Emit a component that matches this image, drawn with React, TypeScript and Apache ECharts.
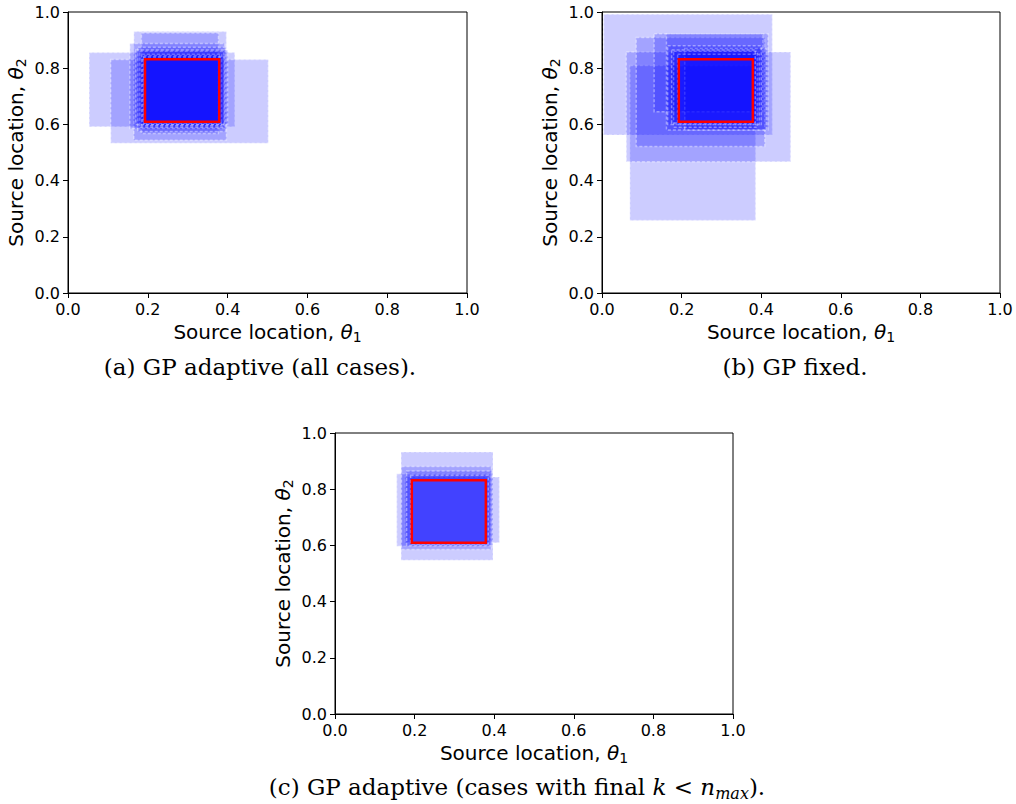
import React, { useEffect, useRef } from "react";
import * as echarts from "echarts";

// Axis ticks (both axes, all panels)
const TICKS = [0, 0.2, 0.4, 0.6, 0.8, 1.0];

// True source region [x0, x1, y0, y1]
const TRUE_BOX = [0.193, 0.379, 0.609, 0.832];

// Posterior credible boxes [x0, x1, y0, y1] — (a) GP adaptive (all cases)
const BOXES_A = [
  [0.053, 0.418, 0.592, 0.856],
  [0.107, 0.502, 0.533, 0.831],
  [0.165, 0.397, 0.544, 0.931],
  [0.184, 0.377, 0.568, 0.925],
  [0.155, 0.393, 0.585, 0.888],
  [0.175, 0.395, 0.575, 0.875],
  [0.18, 0.39, 0.59, 0.86],
  [0.185, 0.385, 0.595, 0.85],
  [0.19, 0.38, 0.6, 0.845],
  [0.17, 0.4, 0.6, 0.865],
  [0.188, 0.392, 0.605, 0.84],
];

// (b) GP fixed
const BOXES_B = [
  [0.004, 0.428, 0.562, 0.992],
  [0.07, 0.386, 0.258, 0.81],
  [0.061, 0.474, 0.467, 0.858],
  [0.086, 0.409, 0.521, 0.909],
  [0.131, 0.404, 0.645, 0.923],
  [0.162, 0.417, 0.58, 0.923],
  [0.208, 0.413, 0.58, 0.87],
  [0.165, 0.4, 0.6, 0.88],
  [0.18, 0.39, 0.59, 0.86],
  [0.19, 0.395, 0.6, 0.85],
  [0.175, 0.385, 0.605, 0.865],
];

// (c) GP adaptive (cases with final k < n_max)
const BOXES_C = [
  [0.166, 0.397, 0.547, 0.932],
  [0.176, 0.413, 0.609, 0.843],
  [0.155, 0.39, 0.597, 0.855],
  [0.167, 0.393, 0.585, 0.881],
  [0.18, 0.395, 0.6, 0.865],
  [0.19, 0.385, 0.605, 0.85],
];

const CAPTION_A = "(a) GP adaptive (all cases).";
const CAPTION_B = "(b) GP fixed.";
const CAPTION_C_PARTS = ["(c) GP adaptive (cases with final ", "k", " < ", "n", "max", ")."];
const AXIS_LABEL = "Source location, ";

const SANS = "DejaVu Sans";
const SERIF = "DejaVu Serif";

function axisName(sub: string) {
  return `{n|${AXIS_LABEL}}{t|θ}{s|${sub}}`;
}

const nameRich = {
  n: { fontSize: 20, fontFamily: SANS, color: "#000", verticalAlign: "middle" },
  t: { fontSize: 20, fontFamily: SANS, fontStyle: "italic", color: "#000", verticalAlign: "middle" },
  s: { fontSize: 14, fontFamily: SANS, color: "#000", verticalAlign: "middle", padding: [10, 0, 0, 0] },
};

function makeAxis(kind: "x" | "y", gridIndex: number) {
  return {
    type: "value",
    gridIndex,
    min: TICKS[0],
    max: TICKS[TICKS.length - 1],
    interval: TICKS[1] - TICKS[0],
    name: axisName(kind === "x" ? "1" : "2"),
    nameLocation: "middle",
    nameGap: kind === "x" ? 27 : 40,
    nameTextStyle: { fontSize: 20, fontFamily: SANS, color: "#000", rich: nameRich },
    axisLine: { show: true, onZero: false, lineStyle: { color: "#000", width: 1 } },
    axisTick: { show: true, inside: false, length: 5, lineStyle: { color: "#000", width: 1 } },
    axisLabel: {
      show: true,
      margin: 8,
      fontSize: 16,
      fontFamily: SANS,
      color: "#000",
      formatter: (v: number) => v.toFixed(1),
    },
    splitLine: { show: false },
  };
}

function boxSeries(data: number[][], gridIndex: number) {
  return {
    type: "custom",
    xAxisIndex: gridIndex,
    yAxisIndex: gridIndex,
    data,
    renderItem: (params: any, api: any) => {
      const tl = api.coord([api.value(0), api.value(3)]);
      const br = api.coord([api.value(1), api.value(2)]);
      return {
        type: "rect",
        shape: { x: tl[0], y: tl[1], width: br[0] - tl[0], height: br[1] - tl[1] },
        style: {
          fill: "rgba(0,0,255,0.2)",
          stroke: "rgba(255,255,255,0.4)",
          lineWidth: 1.5,
          lineDash: [3, 2],
        },
      };
    },
  };
}

function trueSeries(gridIndex: number) {
  return {
    type: "custom",
    xAxisIndex: gridIndex,
    yAxisIndex: gridIndex,
    data: [TRUE_BOX],
    z: 5,
    renderItem: (params: any, api: any) => {
      const tl = api.coord([api.value(0), api.value(3)]);
      const br = api.coord([api.value(1), api.value(2)]);
      return {
        type: "rect",
        shape: { x: tl[0], y: tl[1], width: br[0] - tl[0], height: br[1] - tl[1] },
        style: { fill: "none", stroke: "#ff0000", lineWidth: 2.5 },
      };
    },
  };
}

export default function App() {
  const ref = useRef<HTMLDivElement>(null);
  useEffect(() => {
    if (!ref.current) return;
    const chart = echarts.init(ref.current, undefined, { renderer: "svg" });
    const grids = [
      { left: 68, top: 12, width: 399, height: 281 },
      { left: 602, top: 12, width: 398, height: 281 },
      { left: 335, top: 433, width: 398, height: 281 },
    ].map((g) => ({ ...g, show: true, borderColor: "#000", borderWidth: 1, backgroundColor: "transparent" }));

    const captionStyle = { fontSize: 23, fontFamily: SERIF, fill: "#000", align: "center", verticalAlign: "middle" };

    chart.setOption({
      animation: false,
      backgroundColor: "#fff",
      grid: grids,
      xAxis: [makeAxis("x", 0), makeAxis("x", 1), makeAxis("x", 2)],
      yAxis: [makeAxis("y", 0), makeAxis("y", 1), makeAxis("y", 2)],
      series: [
        boxSeries(BOXES_A, 0),
        trueSeries(0),
        boxSeries(BOXES_B, 1),
        trueSeries(1),
        boxSeries(BOXES_C, 2),
        trueSeries(2),
      ],
      graphic: [
        { type: "text", x: 260, y: 367, style: { ...captionStyle, text: CAPTION_A } },
        { type: "text", x: 795, y: 367, style: { ...captionStyle, text: CAPTION_B } },
        {
          type: "text",
          x: 517,
          y: 787,
          style: {
            ...captionStyle,
            text:
              `{n|${CAPTION_C_PARTS[0]}}{i|${CAPTION_C_PARTS[1]}}{n|${CAPTION_C_PARTS[2]}}` +
              `{i|${CAPTION_C_PARTS[3]}}{s|${CAPTION_C_PARTS[4]}}{n|${CAPTION_C_PARTS[5]}}`,
            rich: {
              n: { fontSize: 23, fontFamily: SERIF, fill: "#000", verticalAlign: "middle" },
              i: { fontSize: 23, fontFamily: SERIF, fontStyle: "italic", fill: "#000", verticalAlign: "middle" },
              s: { fontSize: 16, fontFamily: SERIF, fontStyle: "italic", fill: "#000", verticalAlign: "middle", padding: [12, 0, 0, 0] },
            },
          },
        },
      ],
    });
    return () => chart.dispose();
  }, []);
  return <div ref={ref} style={{ position: "fixed", left: 0, top: 0, width: 1016, height: 804 }} />;
}
